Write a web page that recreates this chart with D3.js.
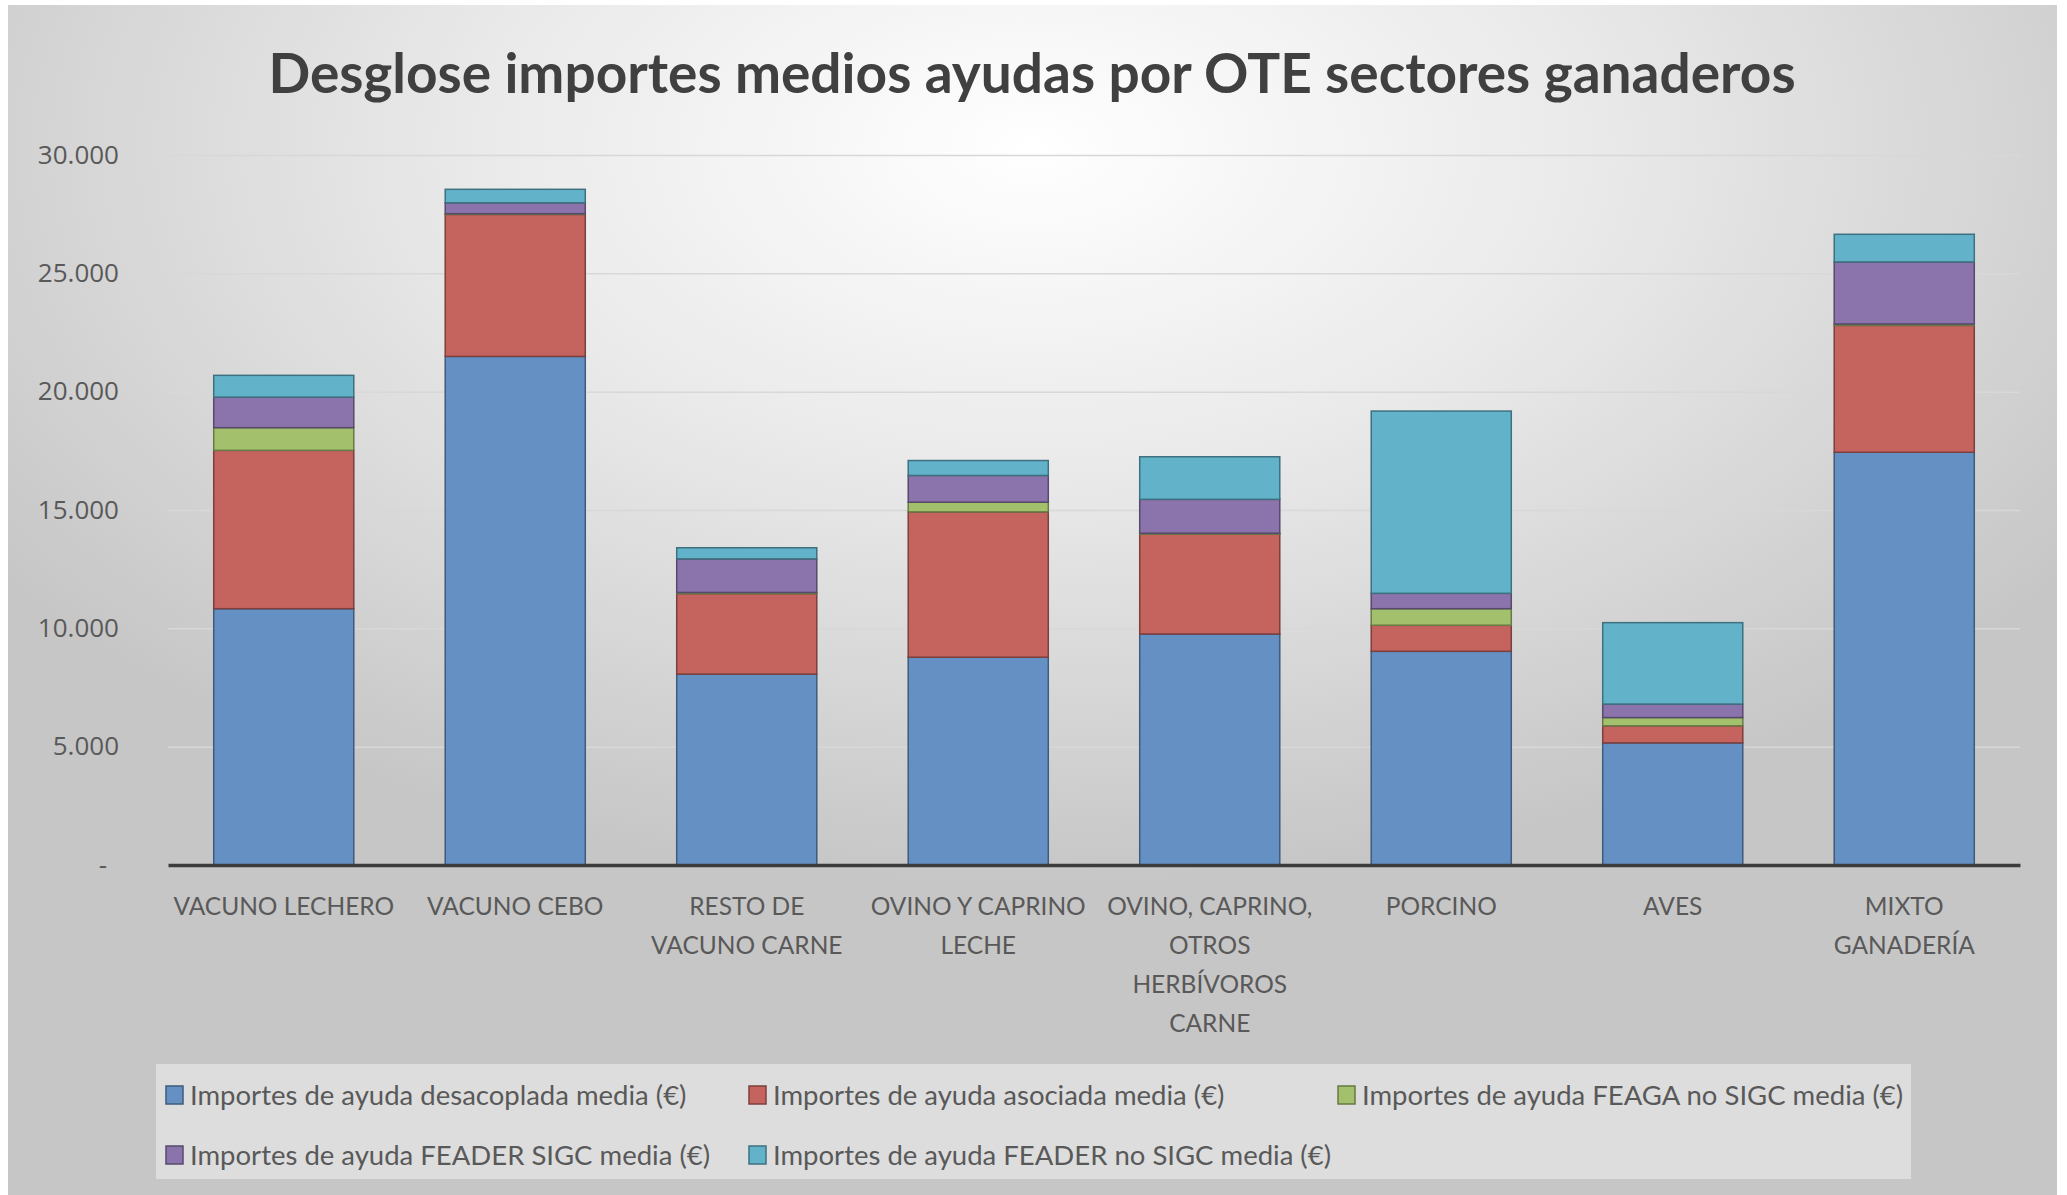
<!DOCTYPE html>
<html>
<head>
<meta charset="utf-8">
<script src="https://cdn.jsdelivr.net/npm/d3@7"></script>
<style>
  html, body { margin: 0; padding: 0; background: #ffffff; }
  #chart { width: 2067px; height: 1195px; }
</style>
</head>
<body>
<div id="chart"></div>
<script>
// Categories (OTE ganaderas) and the label lines as shown under the axis
const categories = ["VACUNO LECHERO", "VACUNO CEBO", "RESTO DE VACUNO CARNE", "OVINO Y CAPRINO LECHE",
    "OVINO, CAPRINO, OTROS HERBÍVOROS CARNE", "PORCINO", "AVES", "MIXTO GANADERÍA"];
const categoryLines = [["VACUNO LECHERO"], ["VACUNO CEBO"], ["RESTO DE", "VACUNO CARNE"], ["OVINO Y CAPRINO", "LECHE"],
    ["OVINO, CAPRINO,", "OTROS", "HERBÍVOROS", "CARNE"], ["PORCINO"], ["AVES"], ["MIXTO", "GANADERÍA"]];

// Series values (€)
const desacoplada  = [10830, 21490, 8065, 8780, 9760, 9030, 5160, 17440];
const asociada     = [6690, 6000, 3400, 6140, 4220, 1100, 720, 5360];
const feagaNoSigc  = [960, 30, 50, 410, 40, 700, 350, 60];
const feaderSigc   = [1290, 460, 1420, 1130, 1430, 650, 570, 2620];
const feaderNoSigc = [920, 570, 470, 630, 1800, 7700, 3440, 1170];

const seriesNames = ["Importes de ayuda desacoplada media (€)", "Importes de ayuda asociada media (€)",
    "Importes de ayuda FEAGA no SIGC media (€)", "Importes de ayuda FEADER SIGC media (€)",
    "Importes de ayuda FEADER no SIGC media (€)"];
const seriesColors = ["#6490c4", "#c5645f", "#a3c06c", "#8b74ac", "#62b3ca"];

const yTicks = [0, 5000, 10000, 15000, 20000, 25000, 30000];

// Build rows for the stack
const seriesValues = [desacoplada, asociada, feagaNoSigc, feaderSigc, feaderNoSigc];
const rows = categories.map((c, i) => {
    const row = { cat: c, lines: categoryLines[i] };
    seriesNames.forEach((s, k) => { row[s] = seriesValues[k][i]; });
    return row;
});
const stacked = d3.stack().keys(seriesNames)(rows);

const W = 2067, H = 1195;
const plot = { left: 168, right: 2020, top: 155, bottom: 865 };

const es = d3.formatLocale({ decimal: ",", thousands: ".", grouping: [3], currency: ["", "€"] });
const fmt = es.format(",.0f");

const svg = d3.select("#chart").append("svg")
    .attr("width", W)
    .attr("height", H);

// Background gradient like the Excel chart area
const defs = svg.append("defs");
const grad = defs.append("radialGradient")
    .attr("id", "bg")
    .attr("cx", 0.5).attr("cy", 0.12).attr("r", 0.62);
grad.append("stop").attr("offset", 0).attr("stop-color", "#ffffff");
grad.append("stop").attr("offset", 0.45).attr("stop-color", "#e9e9e9");
grad.append("stop").attr("offset", 1).attr("stop-color", "#c6c6c6");

svg.append("rect")
    .attr("x", 8).attr("y", 5)
    .attr("width", 2049).attr("height", 1190)
    .attr("fill", "url(#bg)");

// Scales
const x = d3.scaleBand()
    .domain(categories)
    .range([plot.left, plot.right])
    .paddingInner(0.395)
    .paddingOuter(0.1975);

const y = d3.scaleLinear()
    .domain([0, 30000])
    .range([plot.bottom, plot.top]);

// Gridlines
svg.append("g")
    .attr("transform", `translate(${plot.left},0)`)
    .call(d3.axisLeft(y).tickValues(yTicks.slice(1)).tickSize(-(plot.right - plot.left)).tickFormat(""))
    .call(g => g.select(".domain").remove())
    .call(g => g.selectAll("line").attr("stroke", "#d8d8d8").attr("stroke-width", 1.5));

// Y axis labels
svg.append("g")
    .attr("transform", "translate(119,0)")
    .call(d3.axisLeft(y).tickValues(yTicks).tickSize(0).tickPadding(0)
        .tickFormat(d => d === 0 ? "-" : fmt(d)))
    .call(g => g.select(".domain").remove())
    .call(g => g.selectAll("text")
        .attr("font-family", "'Open Sans', sans-serif")
        .attr("font-size", 26)
        .attr("fill", "#595959")
        .attr("dx", d => d === 0 ? -12 : 0));

// Bars
const layer = svg.append("g")
    .selectAll("g")
    .data(stacked)
    .enter().append("g")
    .attr("fill", (d, i) => seriesColors[i])
    .attr("stroke", (d, i) => d3.color(seriesColors[i]).darker(1.3))
    .attr("stroke-width", 1.5);

layer.selectAll("rect")
    .data(d => d)
    .enter().append("rect")
    .attr("x", d => x(d.data.cat))
    .attr("y", d => y(d[1]))
    .attr("width", x.bandwidth())
    .attr("height", d => Math.max(0, y(d[0]) - y(d[1])));

// Category axis line
svg.append("g")
    .attr("transform", `translate(0,${plot.bottom})`)
    .call(d3.axisBottom(x).tickSize(0).tickFormat(""))
    .call(g => g.select(".domain").attr("stroke", "#3c3c3c").attr("stroke-width", 3.5));

// Category labels (multi-line)
const catLabel = svg.append("g")
    .selectAll("text")
    .data(rows)
    .enter().append("text")
    .attr("x", d => x(d.cat) + x.bandwidth() / 2)
    .attr("y", 915)
    .attr("text-anchor", "middle")
    .attr("font-family", "Lato, sans-serif")
    .attr("font-size", 24.5)
    .attr("fill", "#595959");

catLabel.selectAll("tspan")
    .data(d => d.lines)
    .enter().append("tspan")
    .attr("x", function() { return d3.select(this.parentNode).attr("x"); })
    .attr("dy", (d, i) => i === 0 ? 0 : 39)
    .text(d => d);

// Title
svg.append("text")
    .attr("x", 1032)
    .attr("y", 93)
    .attr("text-anchor", "middle")
    .attr("font-family", "Lato, sans-serif")
    .attr("font-weight", "bold")
    .attr("font-size", 55)
    .attr("fill", "#404040")
    .text("Desglose importes medios ayudas por OTE sectores ganaderos");

// Legend
const legend = svg.append("g");
legend.append("rect")
    .attr("x", 156).attr("y", 1064)
    .attr("width", 1755).attr("height", 115)
    .attr("fill", "#ffffff")
    .attr("fill-opacity", 0.4);

const item = legend.selectAll("g.item")
    .data(seriesNames)
    .enter().append("g")
    .attr("class", "item")
    .attr("transform", (d, i) => `translate(${[166, 749, 1338][i % 3]},${i < 3 ? 1095 : 1155})`);

item.append("rect")
    .attr("x", 0).attr("y", -9)
    .attr("width", 17).attr("height", 18)
    .attr("fill", (d, i) => seriesColors[i])
    .attr("stroke", (d, i) => d3.color(seriesColors[i]).darker(1.3))
    .attr("stroke-width", 1.5);

item.append("text")
    .attr("x", 24)
    .attr("y", 0)
    .attr("dy", "0.35em")
    .attr("font-family", "Lato, sans-serif")
    .attr("font-size", 27.5)
    .attr("fill", "#595959")
    .text(d => d);
</script>
</body>
</html>
